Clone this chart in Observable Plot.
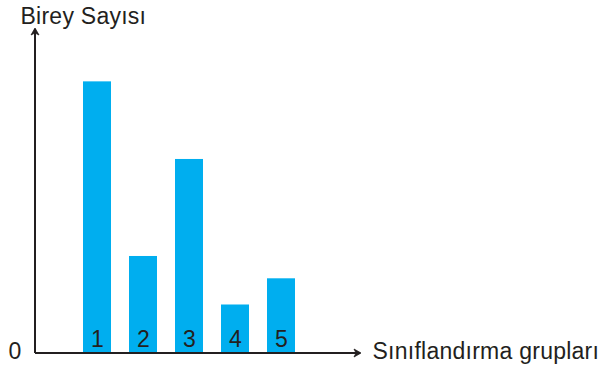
<!DOCTYPE html>
<html>
<head>
<meta charset="utf-8">
<script src="https://cdn.jsdelivr.net/npm/d3@7"></script>
<script src="https://cdn.jsdelivr.net/npm/@observablehq/plot@0.6"></script>
<style>
  html, body { margin: 0; padding: 0; background: #fff; }
  svg { display: block; }
</style>
</head>
<body>
<div id="chart"></div>
<script>
const groups = ["1", "2", "3", "4", "5"];
const counts = [14, 5, 10, 2.5, 3.85];
const yLabel = "Birey Sayısı";
const xLabel = "Sınıflandırma grupları";
const zeroTick = [0];

const data = groups.map((g, i) => ({group: g, count: counts[i]}));
const ink = "#231F20";
const font = "'Liberation Sans', Arial, Helvetica, sans-serif";

function axesArrows(index, scales, values, dims) {
  const g = d3.create("svg:g");
  const x0 = dims.marginLeft, x1 = dims.width - dims.marginRight;
  const y0 = dims.height - dims.marginBottom, y1 = dims.marginTop;
  g.append("path")
    .attr("d", `M${x0},${y0}H${x1 - 1}M${x0},${y0}V${y1 + 1}`)
    .attr("fill", "none").attr("stroke", ink).attr("stroke-width", 2);
  g.append("path")
    .attr("d", `M${x1 - 7},${y0 - 4}L${x1},${y0}L${x1 - 7},${y0 + 4}L${x1 - 5},${y0}Z`)
    .attr("fill", ink).attr("stroke", ink).attr("stroke-width", 0.8).attr("stroke-linejoin", "round");
  g.append("path")
    .attr("d", `M${x0 - 4},${y1 + 7}L${x0},${y1}L${x0 + 4},${y1 + 7}L${x0},${y1 + 5}Z`)
    .attr("fill", ink).attr("stroke", ink).attr("stroke-width", 0.8).attr("stroke-linejoin", "round");
  return g.node();
}

const chart = Plot.plot({
  width: 599,
  height: 371,
  marginLeft: 35,
  marginRight: 238,
  marginTop: 28,
  marginBottom: 18,
  style: {fontFamily: font, fontSize: "23px", color: ink, background: "#fff", letterSpacing: "0.25px"},
  x: {domain: groups, range: [63.4, 314.5], padding: 0.4, axis: null},
  y: {domain: [0, 16.75], axis: null},
  marks: [
    Plot.barY(data, {x: "group", y: "count", fill: "#00AEEF"}),
    Plot.text(data, {x: "group", y: 0, text: "group", lineAnchor: "bottom", dy: -7, fill: ink, fontSize: 23}),
    Plot.text(zeroTick, {y: d => d, text: d => String(d), frameAnchor: "left", textAnchor: "end", dx: -14, dy: -2, fill: ink, fontSize: 23}),
    Plot.text([yLabel], {frameAnchor: "top-left", text: d => d, textAnchor: "start", lineAnchor: "bottom", dx: -15, dy: -5, fill: ink, fontSize: 23}),
    Plot.text([xLabel], {frameAnchor: "bottom-right", text: d => d, textAnchor: "start", lineAnchor: "middle", dx: 11, dy: -1.5, fill: ink, fontSize: 23}),
    axesArrows
  ]
});
document.getElementById("chart").appendChild(chart);
</script>
</body>
</html>
